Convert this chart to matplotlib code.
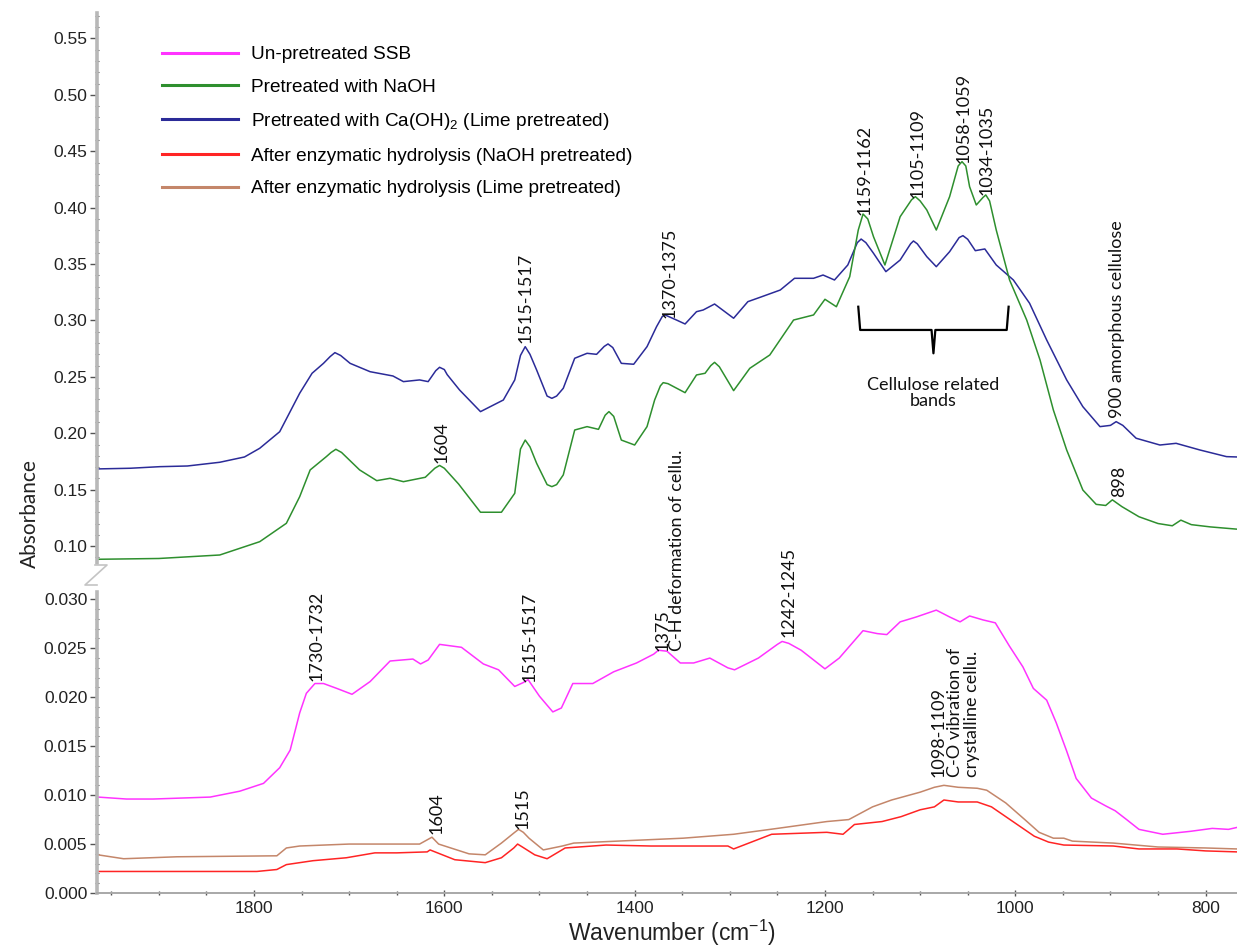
import matplotlib
matplotlib.use('Agg')
import matplotlib.pyplot as plt
from matplotlib.ticker import MultipleLocator, FormatStrFormatter
from matplotlib.lines import Line2D

# ---------------- data ----------------
ca_wn = [1965, 1930, 1899, 1870, 1836, 1810, 1794, 1773, 1752, 1739, 1727, 1720, 1715, 1709, 1699,
         1678, 1654, 1643, 1626, 1617, 1609, 1605, 1600, 1597, 1584, 1562, 1538, 1526, 1520, 1515,
         1510, 1503, 1492, 1487, 1482, 1475, 1463, 1450, 1440, 1432, 1428, 1423, 1414, 1401,
         1387, 1377, 1371, 1368, 1356, 1347, 1335, 1328, 1316, 1296, 1281, 1268, 1247, 1232,
         1212, 1202, 1190, 1176, 1166, 1162, 1157, 1149, 1136, 1121, 1110, 1107, 1103, 1093,
         1083, 1069, 1059, 1055, 1050, 1042, 1032, 1020, 1002, 985, 967, 946, 929, 911, 900,
         894, 887, 873, 848, 831, 806, 778, 767]
ca_abs = [0.1684, 0.1690, 0.1704, 0.1710, 0.1743, 0.1790, 0.1867, 0.2014, 0.2355, 0.2532,
          0.2620, 0.2680, 0.2715, 0.2690, 0.2620, 0.2546, 0.2508, 0.2458, 0.2473, 0.2458,
          0.2555, 0.2585, 0.2565, 0.2520, 0.2384, 0.2192, 0.2295, 0.2473, 0.2690, 0.2768,
          0.2700, 0.2561, 0.2330, 0.2310, 0.2330, 0.2399, 0.2665, 0.2709, 0.2700, 0.2770,
          0.2792, 0.2760, 0.2620, 0.2612, 0.2768, 0.2945, 0.3035, 0.3049, 0.3004, 0.2969,
          0.3078, 0.3093, 0.3146, 0.3020, 0.3167, 0.3206, 0.3270, 0.3374, 0.3374, 0.3403,
          0.3359, 0.3492, 0.3690, 0.3722, 0.3690, 0.3596, 0.3433, 0.3536, 0.3680, 0.3705,
          0.3680, 0.3566, 0.3477, 0.3610, 0.3735, 0.3752, 0.3720, 0.3619, 0.3634, 0.3492,
          0.3359, 0.3153, 0.2827, 0.2473, 0.2236, 0.2059, 0.2070, 0.2103, 0.2070, 0.1956,
          0.1896, 0.1911, 0.1852, 0.1793, 0.1790]

naoh_wn = [1964, 1900, 1836, 1794, 1766, 1752, 1741, 1724, 1719, 1714, 1708, 1689, 1671, 1657,
           1643, 1620, 1610, 1605, 1600, 1585, 1562, 1540, 1526, 1520, 1515, 1510, 1503, 1492,
           1487, 1482, 1475, 1463, 1450, 1438, 1431, 1427, 1422, 1414, 1400, 1387, 1379, 1373,
           1370, 1365, 1347, 1335, 1326, 1320, 1316, 1311, 1296, 1279, 1258, 1233, 1212, 1200,
           1188, 1174, 1165, 1160, 1155, 1149, 1137, 1121, 1109, 1105, 1100, 1093, 1083, 1069,
           1060, 1056, 1052, 1048, 1041, 1034, 1031, 1027, 1020, 1006, 988, 974, 960, 946, 929,
           915, 905, 898, 888, 870, 850, 835, 826, 815, 795, 767]
naoh_abs = [0.0883, 0.0890, 0.0921, 0.1039, 0.1202, 0.1438, 0.1675, 0.1793, 0.1830, 0.1858,
            0.1830, 0.1675, 0.1580, 0.1601, 0.1571, 0.1610, 0.1690, 0.1715, 0.1690, 0.1550,
            0.1300, 0.1300, 0.1468, 0.1860, 0.1940, 0.1880, 0.1734, 0.1545, 0.1527, 0.1545,
            0.1631, 0.2029, 0.2059, 0.2035, 0.2160, 0.2192, 0.2150, 0.1940, 0.1896, 0.2059,
            0.2295, 0.2420, 0.2449, 0.2440, 0.2360, 0.2517, 0.2532, 0.2600, 0.2629, 0.2590,
            0.2378, 0.2576, 0.2694, 0.3004, 0.3049, 0.3188, 0.3122, 0.3388, 0.3802, 0.3944,
            0.3900, 0.3743, 0.3492, 0.3920, 0.4070, 0.4098, 0.4060, 0.3980, 0.3802, 0.4098,
            0.4370, 0.4408, 0.4370, 0.4186, 0.4024, 0.4090, 0.4113, 0.4060, 0.3802, 0.3359,
            0.3004, 0.2650, 0.2207, 0.1852, 0.1497, 0.1370, 0.1360, 0.1410, 0.1350, 0.1260,
            0.1200, 0.1180, 0.1230, 0.1190, 0.1170, 0.1150]

raw_wn = [1964, 1934, 1906, 1846, 1815, 1790, 1773, 1762, 1752, 1745, 1736, 1727, 1713, 1697,
          1678, 1657, 1633, 1625, 1617, 1605, 1582, 1559, 1543, 1526, 1517, 1512, 1500, 1486,
          1477, 1465, 1444, 1422, 1398, 1380, 1375, 1366, 1352, 1338, 1321, 1302, 1295, 1270,
          1250, 1245, 1238, 1225, 1200, 1185, 1160, 1145, 1135, 1121, 1104, 1083, 1069, 1058,
          1048, 1034, 1021, 1006, 992, 981, 967, 957, 946, 936, 920, 905, 895, 883, 870, 845,
          816, 793, 776, 767]
raw_abs = [0.0098, 0.0096, 0.0096, 0.0098, 0.0104, 0.0112, 0.0128, 0.0146, 0.0184, 0.0204,
           0.0214, 0.0214, 0.0209, 0.0203, 0.0216, 0.0237, 0.0239, 0.0234, 0.0238, 0.0254,
           0.0251, 0.0234, 0.0228, 0.0211, 0.0215, 0.0218, 0.0201, 0.0185, 0.0189, 0.0214,
           0.0214, 0.0226, 0.0235, 0.0244, 0.0248, 0.0247, 0.0235, 0.0235, 0.0240, 0.0230,
           0.0228, 0.0240, 0.0254, 0.0257, 0.0255, 0.0248, 0.0229, 0.0240, 0.0268, 0.0265,
           0.0264, 0.0277, 0.0282, 0.0289, 0.0282, 0.0277, 0.0283, 0.0279, 0.0276, 0.0252,
           0.0231, 0.0209, 0.0197, 0.0174, 0.0145, 0.0117, 0.0097, 0.0089, 0.0084, 0.0075,
           0.0065, 0.0060, 0.0063, 0.0066, 0.0065, 0.0067]

hyd_naoh_wn = [1964, 1846, 1797, 1776, 1766, 1752, 1738, 1703, 1673, 1650, 1618, 1615, 1589,
               1557, 1540, 1527, 1523, 1518, 1505, 1492, 1473, 1430, 1383, 1302, 1296, 1256,
               1198, 1181, 1169, 1140, 1120, 1100, 1085, 1075, 1060, 1040, 1025, 1010, 995,
               980, 965, 949, 897, 870, 830, 800, 767]
hyd_naoh_abs = [0.0022, 0.0022, 0.0022, 0.0024, 0.0029, 0.0031, 0.0033, 0.0036, 0.0041, 0.0041,
                0.0042, 0.0044, 0.0034, 0.0031, 0.0036, 0.0046, 0.0050, 0.0047, 0.0039, 0.0035,
                0.0046, 0.0049, 0.0048, 0.0048, 0.0045, 0.0060, 0.0062, 0.0060, 0.0070, 0.0073,
                0.0078, 0.0085, 0.0088, 0.0095, 0.0093, 0.0093, 0.0088, 0.0078, 0.0068, 0.0058,
                0.0052, 0.0049, 0.0048, 0.0045, 0.0045, 0.0043, 0.0042]

hyd_lime_wn = [1964, 1937, 1881, 1776, 1766, 1752, 1700, 1673, 1626, 1613, 1606, 1574, 1557,
               1540, 1526, 1522, 1517, 1511, 1496, 1476, 1464, 1349, 1296, 1250, 1198, 1175,
               1150, 1130, 1100, 1085, 1075, 1060, 1040, 1030, 1010, 990, 975, 960, 949, 940,
               897, 850, 800, 767]
hyd_lime_abs = [0.0039, 0.0035, 0.0037, 0.0038, 0.0046, 0.0048, 0.0050, 0.0050, 0.0050, 0.0057,
                0.0050, 0.0040, 0.0039, 0.0051, 0.0062, 0.0065, 0.0062, 0.0056, 0.0044, 0.0048,
                0.0051, 0.0056, 0.0060, 0.0066, 0.0073, 0.0075, 0.0088, 0.0095, 0.0103, 0.0108,
                0.0110, 0.0108, 0.0107, 0.0105, 0.0092, 0.0075, 0.0062, 0.0056, 0.0056, 0.0053,
                0.0051, 0.0047, 0.0046, 0.0045]

series_labels = ['Un-pretreated SSB', 'Pretreated with NaOH',
                 'Pretreated with Ca(OH)$_2$ (Lime pretreated)',
                 'After enzymatic hydrolysis (NaOH pretreated)',
                 'After enzymatic hydrolysis (Lime pretreated)']
series_colors = ['#ff33ff', '#2e8f2e', '#2b2b98', '#ff2424', '#c4866a']

top_notes = [('1604', 1603, 0.1737), ('1515-1517', 1515, 0.2798), ('1370-1375', 1363, 0.3020),
             ('1159-1162', 1158, 0.3935), ('1105-1109', 1103, 0.4083), ('1058-1059', 1054, 0.4394),
             ('1034-1035', 1030, 0.4113), ('900 amorphous cellulose', 893, 0.2133),
             ('898', 891, 0.1438)]
bot_notes = [('1730-1732', 1734, 0.0217), ('1515-1517', 1510, 0.0216),
             ('1242-1245', 1238, 0.0262), ('1604', 1608, 0.0060), ('1515', 1518, 0.0065)]

# ---------------- figure ----------------
plt.rcParams['font.family'] = ['Liberation Sans', 'DejaVu Sans']
plt.rcParams['mathtext.fontset'] = 'custom'
plt.rcParams['mathtext.rm'] = 'Liberation Sans'
plt.rcParams['mathtext.it'] = 'Liberation Sans:italic'

W, H = 1237, 947
fig = plt.figure(figsize=(W / 100, H / 100), dpi=100)


def px_rect(x0, y0, x1, y1):
    return [x0 / W, 1 - y1 / H, (x1 - x0) / W, (y1 - y0) / H]


ax_top = fig.add_axes(px_rect(97, 13, 1237, 563))
ax_bot = fig.add_axes(px_rect(97, 592, 1237, 893))
for a in (ax_top, ax_bot):
    a.set_facecolor('none')
    a.set_xlim(1965, 767)
    for s in ('top', 'right'):
        a.spines[s].set_visible(False)
    a.spines['left'].set_color('#b8b8b8')
    a.spines['left'].set_linewidth(2.6)
    a.tick_params(axis='y', which='major', direction='out', length=5, width=1,
                  color='#555555', labelsize=12.5, pad=2, labelcolor='#222222')
    a.tick_params(axis='y', which='minor', direction='inout', length=3, width=0.8,
                  color='#555555')

ax_top.spines['bottom'].set_visible(False)
ax_top.tick_params(axis='x', which='both', bottom=False, labelbottom=False)
ax_top.set_ylim(0.0850, 0.5726)
ax_top.yaxis.set_major_locator(MultipleLocator(0.05))
ax_top.yaxis.set_minor_locator(MultipleLocator(0.01))
ax_top.yaxis.set_major_formatter(FormatStrFormatter('%.2f'))

ax_bot.set_ylim(0.0, 0.03075)
ax_bot.yaxis.set_major_locator(MultipleLocator(0.005))
ax_bot.yaxis.set_minor_locator(MultipleLocator(0.001))
ax_bot.yaxis.set_major_formatter(FormatStrFormatter('%.3f'))
ax_bot.xaxis.set_major_locator(MultipleLocator(200))
ax_bot.xaxis.set_minor_locator(MultipleLocator(50))
ax_bot.spines['bottom'].set_color('#a8a8a8')
ax_bot.spines['bottom'].set_linewidth(1.4)
ax_bot.tick_params(axis='x', which='major', direction='inout', length=5, width=1,
                   color='#555555', labelsize=12.5, pad=3, labelcolor='#222222')
ax_bot.tick_params(axis='x', which='minor', direction='inout', length=2.5, width=1,
                   color='#555555')

lw = 1.1
ax_top.plot(ca_wn, ca_abs, color=series_colors[2], lw=lw)
ax_top.plot(naoh_wn, naoh_abs, color=series_colors[1], lw=lw)
ax_bot.plot(raw_wn, raw_abs, color=series_colors[0], lw=lw)
ax_bot.plot(hyd_lime_wn, hyd_lime_abs, color=series_colors[4], lw=lw)
ax_bot.plot(hyd_naoh_wn, hyd_naoh_abs, color=series_colors[3], lw=lw)

# legend
handles = [Line2D([], [], color=c, lw=2.2) for c in series_colors]
ax_top.legend(handles, series_labels, loc='upper left',
              bbox_to_anchor=(162 / W, 1 - 46 / H), bbox_transform=fig.transFigure,
              frameon=False, fontsize=13.7, handlelength=4.0, handletextpad=0.7,
              labelspacing=0.8, borderpad=0, borderaxespad=0)

# annotations
nfont = dict(family=['Lato', 'DejaVu Sans'], fontsize=13, color='#111111',
             rotation=90, ha='center', va='bottom')
for t, x, y in top_notes:
    ax_top.text(x, y, t, **nfont)
for t, x, y in bot_notes:
    ax_bot.text(x, y, t, **nfont)
ax_bot.text(1363, 0.0247, '1375\nC-H deformation of cellu.', multialignment='left',
            linespacing=0.93, clip_on=False, **nfont)
ax_bot.text(1063, 0.0119, '1098-1109\nC-O vibration of\ncrystalline cellu.',
            multialignment='left', linespacing=1.08, **nfont)

# bracket for cellulose bands
bx = [1165, 1163, 1088, 1086, 1084, 1009, 1007]
by = [0.3122, 0.2916, 0.2916, 0.2709, 0.2916, 0.2916, 0.3122]
ax_top.plot(bx, by, color='black', lw=1.6, solid_joinstyle='round')
ax_top.text(1086, 0.2357, 'Cellulose related\nbands', family=['Lato', 'DejaVu Sans'],
            fontsize=13, ha='center', va='center', linespacing=0.93, color='#111111')

# axis labels
fig.text(30 / W, 1 - 514 / H, 'Absorbance', rotation=90, ha='center', va='center',
         family=['Lato', 'DejaVu Sans'], fontsize=15, color='#222222')
fig.text(672 / W, 1 - 933 / H, 'Wavenumber (cm$^{-1}$)', ha='center', va='center',
         fontsize=16.5, color='#222222')

# axis-break mark
fig.add_artist(Line2D([95 / W, 107 / W, 85 / W, 97 / W],
                      [1 - 565 / H, 1 - 565 / H, 1 - 585 / H, 1 - 585 / H],
                      color='#c4c4c4', lw=1.2))

fig.savefig('out.png', dpi=100)
